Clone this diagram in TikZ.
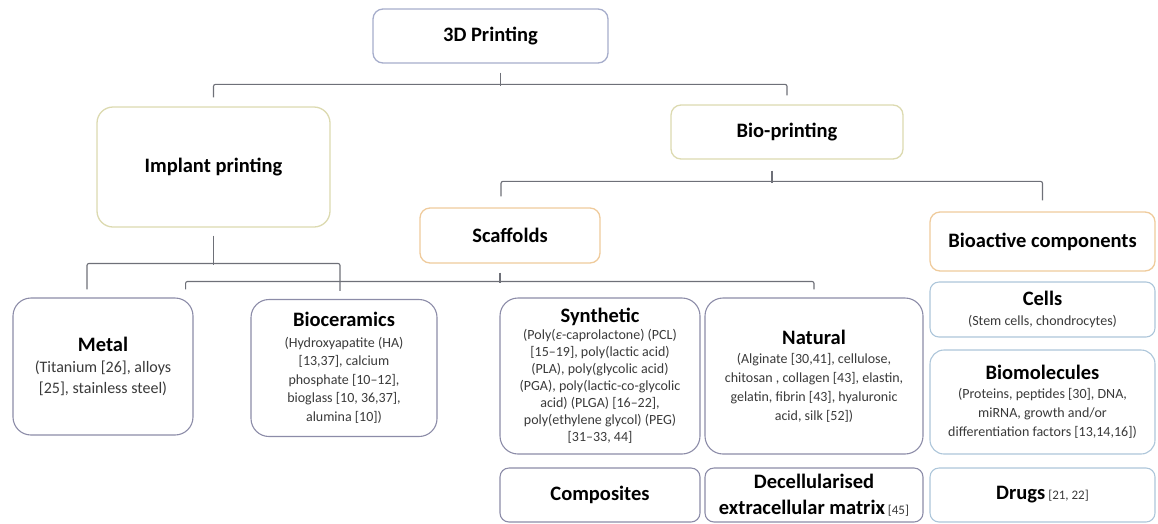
\documentclass[tikz,border=0pt]{standalone}
\usepackage{fontspec}
\setmainfont{Carlito}
\tikzset{>=stealth}
\definecolor{topline}{HTML}{A6ADCB}
\definecolor{bioline}{HTML}{DCDAB0}
\definecolor{scafline}{HTML}{EFCB9C}
\definecolor{matline}{HTML}{8C8CA8}
\definecolor{compline}{HTML}{ADC6DA}
\definecolor{linkgrey}{HTML}{6E7078}
\definecolor{bodytext}{HTML}{3A3A3A}
\newcommand{\ttl}{\fontsize{20.5}{24}\selectfont\bfseries\color{black}}
\newcommand{\bodyf}[2]{\fontsize{#1}{#2}\selectfont\color{bodytext}}

\begin{document}
\begin{tikzpicture}[x=1pt,y=-1pt,
  box/.style={draw, fill=white, rounded corners=#1, line width=1.1pt, inner sep=0pt, align=center},
  box/.default=9pt,
  boxsize/.style 2 args={minimum width=#1pt, minimum height=#2pt},
  link/.style={draw=linkgrey, line width=1.1pt, rounded corners=2pt}]
\useasboundingbox (0,0) rectangle (1158,523);

% levels 1 and 2
\node[box=10pt, draw=topline, line width=1.3pt, boxsize={235}{54}] (print) at (490.5,36) {\ttl 3D Printing};
\node[box=16pt, draw=bioline, line width=1.3pt, boxsize={233}{120}] (implant) at (213.5,167) {\ttl Implant printing};
\node[box=10pt, draw=bioline, line width=1.3pt, boxsize={232}{54}] (bioprint) at (787,132) {\ttl Bio-printing};
\node[box=10pt, draw=scafline, line width=1.3pt, boxsize={180}{55}] (scaffolds) at (510,235.5) {\ttl Scaffolds};
\node[box=10pt, draw=scafline, line width=1.3pt, boxsize={225}{59}] (bioactive) at (1042.5,241.5) {\ttl Bioactive components};

% implant materials
\node[box=18pt, draw=matline, boxsize={180}{137}, font=\bodyf{16}{21}] (metal) at (103,366.5)
  {{\ttl Metal}\\(Titanium [26], alloys\\{}[25], stainless steel)};
\node[box=18pt, draw=matline, boxsize={186}{137}, font=\bodyf{14}{18.5}] (bioceramics) at (344,368)
  {{\ttl Bioceramics}\\[2pt](Hydroxyapatite (HA)\\{}[13,37], calcium\\phosphate [10--12],\\bioglass [10, 36,37],\\alumina [10])};

% scaffold materials
\node[box=18pt, draw=matline, boxsize={200}{156}, font=\bodyf{14}{17}] (synthetic) at (600,376)
  {{\ttl Synthetic}\\(Poly(\textit{ε}-caprolactone) (PCL)\\{}[15--19], poly(lactic acid)\\(PLA), poly(glycolic acid)\\(PGA), poly(lactic-co-glycolic\\acid) (PLGA) [16--22],\\poly(ethylene glycol) (PEG)\\{}[31--33, 44]};
\node[box=18pt, draw=matline, boxsize={218}{156}, font=\bodyf{14}{19}] (natural) at (814,376)
  {{\ttl Natural}\\(Alginate [30,41], cellulose,\\chitosan , collagen [43], elastin,\\gelatin, fibrin [43], hyaluronic\\acid, silk [52])};
\node[box, draw=matline, boxsize={200}{54}] (composites) at (600,495) {\ttl Composites};
\node[box, draw=matline, boxsize={218}{54}, font=\bodyf{13}{26}] (decell) at (814,495)
  {{\ttl Decellularised}\\{\ttl extracellular matrix} [45]};

% bioactive components
\node[box, draw=compline, boxsize={225}{55}, font=\bodyf{14}{20}] (cells) at (1042.5,309.5)
  {{\ttl Cells}\\(Stem cells, chondrocytes)};
\node[box=14pt, draw=compline, boxsize={225}{104}, font=\bodyf{14}{19}] (biomol) at (1042.5,402)
  {{\ttl Biomolecules}\\(Proteins, peptides [30], DNA,\\miRNA, growth and/or\\differentiation factors [13,14,16])};
\node[box, draw=compline, boxsize={225}{54}, font=\bodyf{13}{16}] (drugs) at (1042.5,495)
  {{\ttl Drugs} [21, 22]};

% brackets
\draw[link] ([xshift=10pt]print.south) ++(0,9) -- ++(0,13);
\draw[link] ([yshift=9pt]implant.north) -- ++(0,-13) -| ([yshift=9pt]bioprint.north);
\draw[link] ([xshift=-15pt]bioprint.south) ++(0,11) -- ++(0,12);
\draw[link] ([xshift=-9pt,yshift=11pt]scaffolds.north) -- ++(0,-15) -| ([yshift=11pt]bioactive.north);
\draw[link] (implant.south) ++(0,8) -- ++(0,29);
\draw[link] ([xshift=-16pt,yshift=8pt]metal.north) -- ++(0,-26) -| ([xshift=-4pt,yshift=8pt]bioceramics.north);
\draw[link] ([xshift=-10pt]scaffolds.south) ++(0,9) -- ++(0,10);
\draw[link] ([xshift=-8pt,yshift=8pt]metal.north east) -- ++(0,-8) -| ([yshift=8pt]natural.north);
\end{tikzpicture}
\end{document}
